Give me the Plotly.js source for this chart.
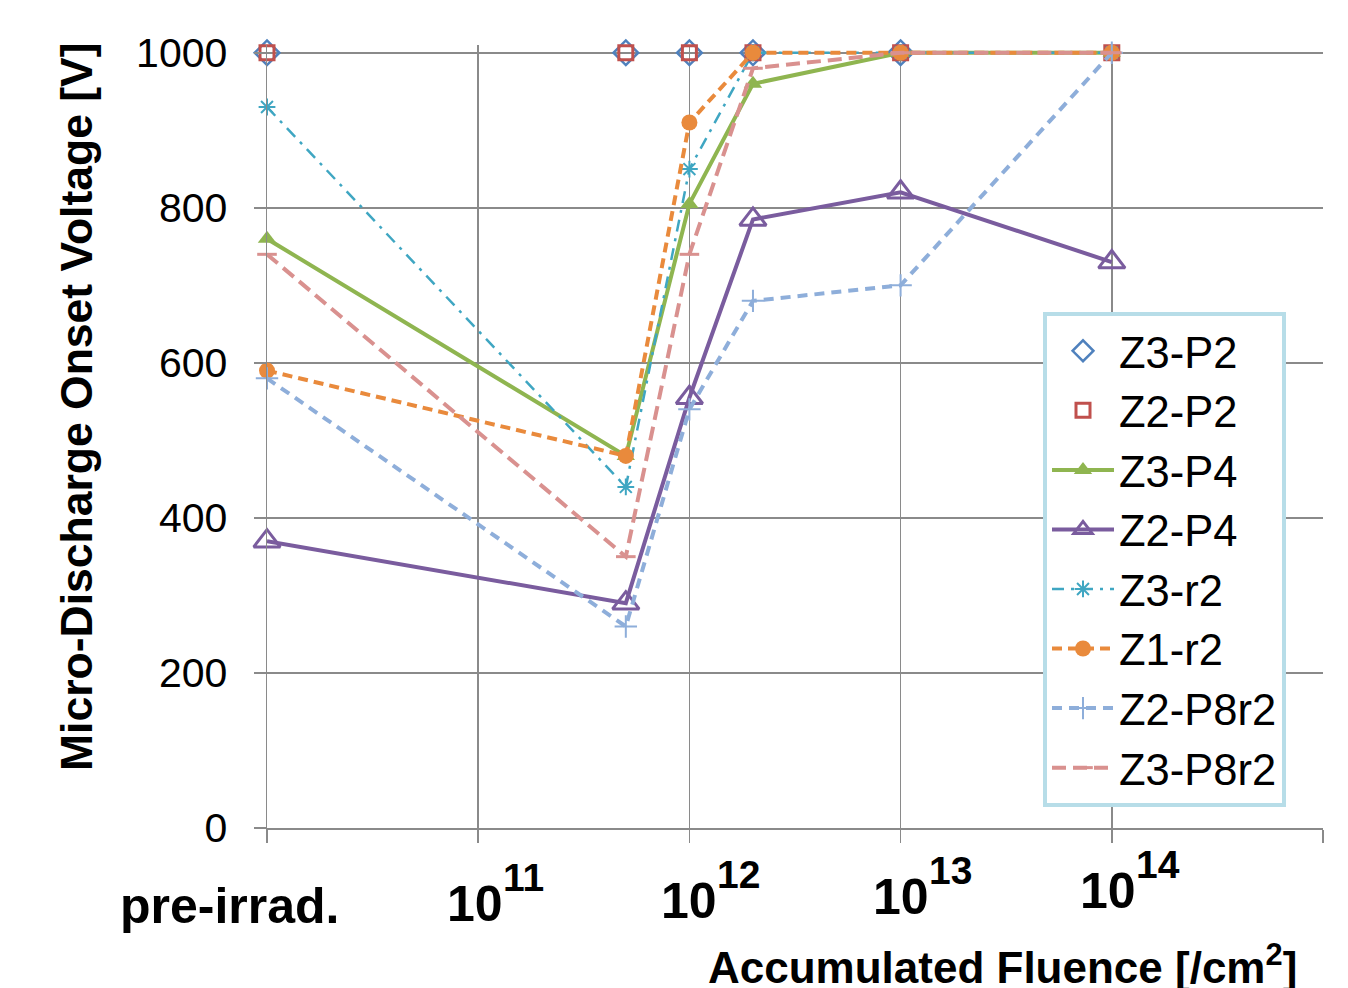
<!DOCTYPE html>
<html>
<head>
<meta charset="utf-8">
<script src="https://cdn.plot.ly/plotly-3.0.1.min.js"></script>
<style>
  html, body { margin: 0; padding: 0; background: #fff; }
  #chart { width: 1348px; height: 988px; }
</style>
</head>
<body>
<div id="chart"></div>
<script>
// Fluence steps; the pre-irradiation measurement is plotted at 1e10 on the log axis
const PRE = 1e10;
const fluence = [PRE, 5e11, 1e12, 2e12, 1e13, 1e14];

// Micro-discharge onset voltage [V] per sample
const z3p2   = [1000, 1000, 1000, 1000, 1000];
const z2p2   = [1000, 1000, 1000, 1000, 1000, 1000];
const z3p4   = [760, 480, 805, 960, 1000, 1000];
const z2p4   = [370, 290, 555, 785, 820, 730];
const z3r2   = [930, 440, 850, 1000, 1000, 1000];
const z1r2   = [590, 480, 910, 1000, 1000, 1000];
const z2p8r2 = [580, 260, 540, 680, 700, 1000];
const z3p8r2 = [740, 350, 740, 980, 1000, 1000];

// Axis tick positions and labels
const xTickVals  = [1e10, 1e11, 1e12, 1e13, 1e14, 1e15];
const xTickBase  = ['pre-irrad.', '10', '10', '10', '10'];
const xTickExp   = ['', '11', '12', '13', '14'];
const yTickVals  = [0, 200, 400, 600, 800, 1000];

const FONT = 'Liberation Sans, Arial, sans-serif';

function series(name, x, y, opts) {
  return Object.assign({ type: 'scatter', name: name, x: x, y: y, cliponaxis: false }, opts);
}

const traces = [
  series('Z3-P2', fluence.slice(0, 5), z3p2, {
    mode: 'markers',
    marker: { symbol: 'diamond-open', size: 19, color: '#4F81BD', line: { width: 2.5, color: '#4F81BD' } }
  }),
  series('Z2-P2', fluence, z2p2, {
    mode: 'markers',
    marker: { symbol: 'square-open', size: 14, color: '#C0504D', line: { width: 3, color: '#C0504D' } }
  }),
  series('Z3-P4', fluence, z3p4, {
    mode: 'lines+markers',
    line: { color: '#8FB550', width: 4 },
    marker: { symbol: 'triangle-up', size: 16, color: '#8FB550' }
  }),
  series('Z2-P4', fluence, z2p4, {
    mode: 'lines+markers',
    line: { color: '#7A5C9E', width: 4 },
    marker: { symbol: 'triangle-up-open', size: 23, color: '#7A5C9E', line: { width: 3, color: '#7A5C9E' } }
  }),
  series('Z3-r2', fluence, z3r2, {
    mode: 'lines+markers',
    line: { color: '#3FA6C2', width: 2.5, dash: '12px,7px,3px,7px' },
    marker: { symbol: 'asterisk-open', size: 14, color: '#3FA6C2', line: { width: 2, color: '#3FA6C2' } }
  }),
  series('Z1-r2', fluence, z1r2, {
    mode: 'lines+markers',
    line: { color: '#E98A3C', width: 4, dash: '10px,6px' },
    marker: { symbol: 'circle', size: 16, color: '#E98A3C' }
  }),
  series('Z2-P8r2', fluence, z2p8r2, {
    mode: 'lines+markers',
    line: { color: '#8EAEDA', width: 4, dash: '10px,7px' },
    marker: { symbol: 'cross-thin-open', size: 16, color: '#8EAEDA', line: { width: 2, color: '#8EAEDA' } }
  }),
  series('Z3-P8r2', fluence, z3p8r2, {
    mode: 'lines+markers',
    line: { color: '#D9918F', width: 4, dash: '14px,7px' },
    marker: { symbol: 'line-ew-open', size: 14, color: '#D9918F', line: { width: 3, color: '#D9918F' } }
  })
];

// Plot frame in pixels
const W = 1348, H = 988;
const M = { l: 267, r: 25, t: 45, b: 160 };
const plotW = W - M.l - M.r;
const plotH = H - M.t - M.b;

// Horizontal nudges of the x tick labels (px) and vertical drop below the axis (px)
const xLabelShift = [-37, -3, 0, 0, -4];
const xLabelDrop  = [78, 76, 73, 69, 63];

const annotations = [];
xTickBase.forEach((t, i) => {
  const x = Math.log10(xTickVals[i]);
  annotations.push({
    xref: 'x', yref: 'paper', x: x, y: 0,
    xanchor: 'center', yanchor: 'middle',
    xshift: xLabelShift[i], yshift: -xLabelDrop[i],
    text: t, showarrow: false,
    font: { family: FONT, size: 50, color: '#000', weight: 'bold' }
  });
  if (xTickExp[i]) {
    // exponent set up and to the right of the base "10"
    annotations.push({
      xref: 'x', yref: 'paper', x: x, y: 0,
      xanchor: 'left', yanchor: 'middle',
      xshift: xLabelShift[i] + 26, yshift: -xLabelDrop[i] + 27,
      text: xTickExp[i], showarrow: false,
      font: { family: FONT, size: 39, color: '#000', weight: 'bold' }
    });
  }
});

annotations.push({
  xref: 'paper', yref: 'paper',
  x: (1002 - M.l) / plotW, y: 0,
  xanchor: 'center', yanchor: 'middle', yshift: -136,
  text: 'Accumulated Fluence [/cm<sup>2</sup>]', showarrow: false,
  font: { family: FONT, size: 44, color: '#000', weight: 'bold' }
});

annotations.push({
  xref: 'paper', yref: 'paper',
  x: (76 - M.l) / plotW, y: (828 - 407) / plotH,
  xanchor: 'center', yanchor: 'middle', textangle: -90,
  text: 'Micro-Discharge Onset Voltage [V]', showarrow: false,
  font: { family: FONT, size: 44.5, color: '#000', weight: 'bold' }
});

const layout = {
  width: W, height: H,
  margin: M,
  paper_bgcolor: '#fff',
  plot_bgcolor: '#fff',
  showlegend: true,
  font: { family: FONT, color: '#000' },
  xaxis: {
    type: 'log',
    range: [10, 15],
    tickvals: xTickVals,
    showticklabels: false,
    ticks: 'outside', ticklen: 13, tickwidth: 1.5, tickcolor: '#8a8a8a',
    showgrid: true, gridcolor: '#8a8a8a', gridwidth: 1.5,
    showline: true, linecolor: '#8a8a8a', linewidth: 1.5,
    zeroline: false, fixedrange: true
  },
  yaxis: {
    range: [0, 1010],
    tickvals: yTickVals,
    ticks: 'outside', ticklen: 12, tickwidth: 1.5, tickcolor: '#8a8a8a',
    ticklabelstandoff: 18,
    tickfont: { family: FONT, size: 41, color: '#000' },
    showgrid: true, gridcolor: '#8a8a8a', gridwidth: 1.5,
    showline: true, linecolor: '#8a8a8a', linewidth: 1.5,
    zeroline: false, fixedrange: true
  },
  legend: {
    x: (1043 - M.l) / plotW, y: (828 - 312) / plotH,
    xanchor: 'left', yanchor: 'top',
    bgcolor: '#fff', bordercolor: '#B7DDE8', borderwidth: 4,
    font: { family: FONT, size: 43.5, color: '#000' },
    itemwidth: 62, tracegroupgap: 0
  },
  annotations: annotations
};

Plotly.newPlot('chart', traces, layout, { staticPlot: true, displayModeBar: false });
</script>
</body>
</html>
